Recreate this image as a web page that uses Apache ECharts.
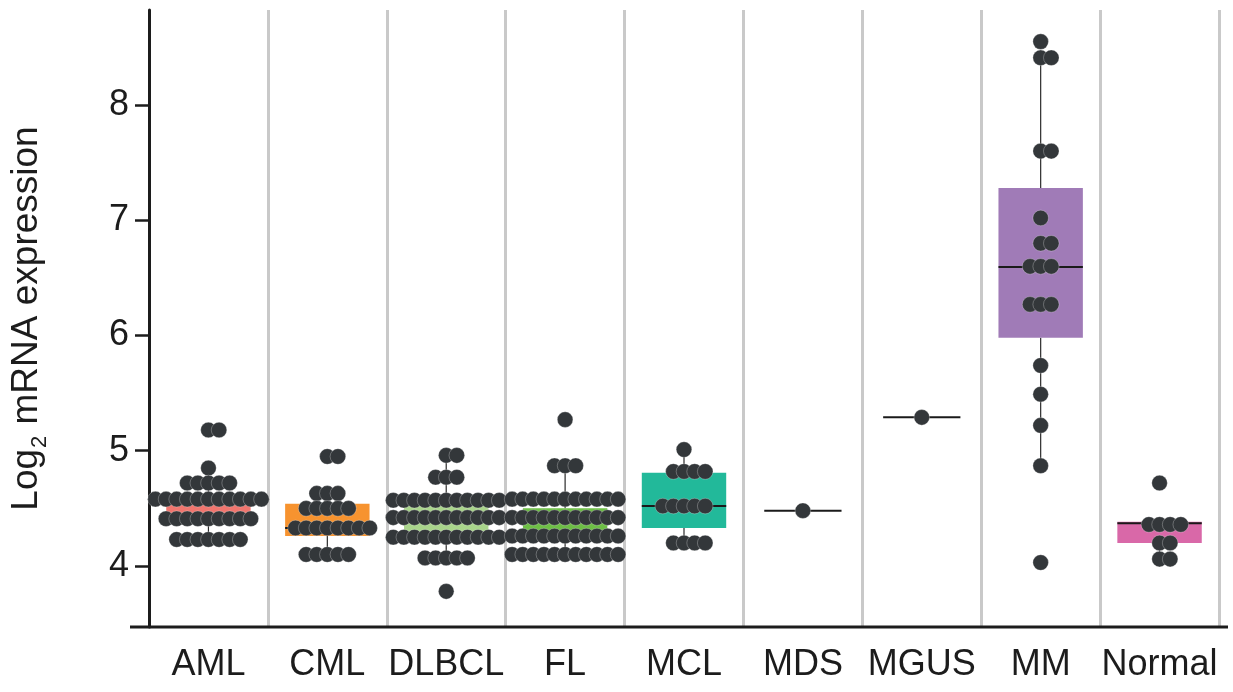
<!DOCTYPE html>
<html>
<head>
<meta charset="utf-8">
<script src="https://cdn.jsdelivr.net/npm/echarts@6/dist/echarts.min.js"></script>
<style>
html,body{margin:0;padding:0;background:#fff;}
#chart{width:1233px;height:692px;}
</style>
</head>
<body>
<div id="chart"></div>
<script>
// ---------- DATA ----------
const categories = ['AML', 'CML', 'DLBCL', 'FL', 'MCL', 'MDS', 'MGUS', 'MM', 'Normal'];
const yTicks = [4, 5, 6, 7, 8];

// individual samples (one dot each)
const amlValues = [5.18, 5.18, 4.85,
  4.72, 4.72, 4.72, 4.72, 4.72,
  4.58, 4.58, 4.58, 4.58, 4.58, 4.58, 4.58, 4.58, 4.58, 4.58, 4.58,
  4.41, 4.41, 4.41, 4.41, 4.41, 4.41, 4.41, 4.41, 4.41,
  4.23, 4.23, 4.23, 4.23, 4.23, 4.23, 4.23];
const cmlValues = [4.95, 4.95,
  4.63, 4.63, 4.63,
  4.50, 4.50, 4.50, 4.50, 4.50,
  4.33, 4.33, 4.33, 4.33, 4.33, 4.33, 4.33, 4.33,
  4.10, 4.10, 4.10, 4.10, 4.10];
const dlbclValues = [4.96, 4.96,
  4.77, 4.77, 4.77,
  4.57, 4.57, 4.57, 4.57, 4.57, 4.57, 4.57, 4.57, 4.57, 4.57, 4.57,
  4.42, 4.42, 4.42, 4.42, 4.42, 4.42, 4.42, 4.42, 4.42, 4.42, 4.42,
  4.25, 4.25, 4.25, 4.25, 4.25, 4.25, 4.25, 4.25, 4.25, 4.25, 4.25,
  4.07, 4.07, 4.07, 4.07, 4.07,
  3.78];
const flValues = [5.27,
  4.87, 4.87, 4.87,
  4.58, 4.58, 4.58, 4.58, 4.58, 4.58, 4.58, 4.58, 4.58, 4.58, 4.58,
  4.42, 4.42, 4.42, 4.42, 4.42, 4.42, 4.42, 4.42, 4.42, 4.42, 4.42,
  4.26, 4.26, 4.26, 4.26, 4.26, 4.26, 4.26, 4.26, 4.26, 4.26, 4.26,
  4.10, 4.10, 4.10, 4.10, 4.10, 4.10, 4.10, 4.10, 4.10, 4.10, 4.10];
const mclValues = [5.01,
  4.82, 4.82, 4.82, 4.82,
  4.52, 4.52, 4.52, 4.52, 4.52,
  4.20, 4.20, 4.20, 4.20];
const mdsValues = [4.48];
const mgusValues = [5.29];
const mmValues = [8.55, 8.41, 8.41, 7.60, 7.60, 7.02, 6.80, 6.80,
  6.60, 6.60, 6.60, 6.27, 6.27, 6.27, 5.74, 5.49, 5.22, 4.87, 4.03];
const normalValues = [4.72, 4.36, 4.36, 4.36, 4.36, 4.20, 4.20, 4.06, 4.06];

// box summaries: [lower whisker, Q1, median, Q3, upper whisker]
const amlBox    = [4.23, 4.41, 4.58, 4.58, 4.85];
const cmlBox    = [4.10, 4.26, 4.33, 4.54, 4.63];
const dlbclBox  = [4.07, 4.30, 4.42, 4.55, 4.96];
const flBox     = [4.10, 4.30, 4.42, 4.50, 4.87];
const mclBox    = [4.20, 4.33, 4.52, 4.81, 5.01];
const mdsBox    = [4.48, 4.48, 4.48, 4.48, 4.48];
const mgusBox   = [5.29, 5.29, 5.29, 5.29, 5.29];
const mmBox     = [4.87, 5.98, 6.595, 7.28, 8.41];
const normalBox = [4.06, 4.20, 4.37, 4.385, 4.385];

const boxColors = ['#F0766F', '#F7932F', '#A9D48B', '#6DBE45', '#22B99A', null, null, '#A07BB7', '#D968A8'];

// ---------- BUILD ----------
const allValues = [amlValues, cmlValues, dlbclValues, flValues, mclValues, mdsValues, mgusValues, mmValues, normalValues];
const allBoxes = [amlBox, cmlBox, dlbclBox, flBox, mclBox, mdsBox, mgusBox, mmBox, normalBox];

const dotData = [];
allValues.forEach((vals, ci) => {
  const groups = new Map();
  vals.forEach(v => groups.set(v, (groups.get(v) || 0) + 1));
  groups.forEach((n, v) => {
    for (let i = 0; i < n; i++) dotData.push([ci, v, i, n]);
  });
});
const boxData = allBoxes.map((b, i) => [i].concat(b));

const yMin = 3.4707, yMax = 8.8243;
const ink = '#1c1c1c';
const font = "'Liberation Sans', Arial, Helvetica, sans-serif";

const chart = echarts.init(document.getElementById('chart'), null, {renderer: 'canvas'});
chart.setOption({
  animation: false,
  backgroundColor: '#fff',
  grid: {left: 148, right: 14, top: 10, bottom: 65},
  xAxis: {
    type: 'category',
    data: categories,
    axisLine: {show: false},
    axisTick: {show: false},
    axisLabel: {interval: 0, fontSize: 36, color: ink, margin: 20, fontFamily: font},
    splitLine: {show: true, interval: 0, lineStyle: {color: '#c9c9c9', width: 3}}
  },
  yAxis: {
    type: 'value',
    min: yMin, max: yMax,
    axisLine: {show: true, lineStyle: {color: ink, width: 3}},
    axisTick: {show: true, length: 14, customValues: yTicks, lineStyle: {color: ink, width: 2.5}},
    axisLabel: {customValues: yTicks, fontSize: 36, margin: 20, color: ink, fontFamily: font},
    splitLine: {show: false},
    name: '{a|Log}{b|2}{a| mRNA expression}',
    nameLocation: 'middle',
    nameRotate: 90,
    nameGap: 104,
    nameTextStyle: {
      color: ink, fontFamily: font,
      rich: {
        a: {fontSize: 37, color: ink, fontFamily: font, verticalAlign: 'bottom'},
        b: {fontSize: 22, color: ink, fontFamily: font, verticalAlign: 'bottom', padding: [0, 1, -6, 1]}
      }
    }
  },
  graphic: [{
    type: 'line', z: 100,
    shape: {x1: 130, y1: 627, x2: 1228, y2: 627},
    style: {stroke: ink, lineWidth: 3}
  }],
  series: [
    {
      type: 'custom',
      z: 2,
      data: boxData,
      renderItem: function (params, api) {
        const ci = api.value(0);
        const lo = api.value(1), q1 = api.value(2), med = api.value(3), q3 = api.value(4), hi = api.value(5);
        const band = api.size([1, 0])[0];
        const bw = band * 0.71;
        const cx = api.coord([ci, med])[0];
        const y = v => api.coord([ci, v])[1];
        const children = [];
        const wStyle = {stroke: '#2b2b2b', lineWidth: 1.2};
        if (lo < q1) children.push({type: 'line', shape: {x1: cx, y1: y(lo), x2: cx, y2: y(q1)}, style: wStyle});
        if (hi > q3) children.push({type: 'line', shape: {x1: cx, y1: y(q3), x2: cx, y2: y(hi)}, style: wStyle});
        const col = boxColors[ci];
        if (col && q3 > q1) {
          children.push({type: 'rect', shape: {x: cx - bw / 2, y: y(q3), width: bw, height: y(q1) - y(q3)}, style: {fill: col}});
        }
        const mw = (col ? bw : band * 0.65);
        children.push({type: 'line', shape: {x1: cx - mw / 2, y1: y(med), x2: cx + mw / 2, y2: y(med)}, style: {stroke: '#1a1a1a', lineWidth: 2}});
        return {type: 'group', children: children};
      }
    },
    {
      type: 'custom',
      z: 5,
      data: dotData,
      renderItem: function (params, api) {
        const ci = api.value(0), v = api.value(1), i = api.value(2), n = api.value(3);
        const p = api.coord([ci, v]);
        const spacing = 10.6;
        const off = (i - Math.floor((n - 1) / 2)) * spacing;
        return {
          type: 'circle',
          shape: {cx: p[0] + off, cy: p[1], r: 7.8},
          style: {fill: '#33373a', stroke: 'rgba(255,255,255,0.35)', lineWidth: 0.8}
        };
      }
    }
  ]
});
</script>
</body>
</html>
